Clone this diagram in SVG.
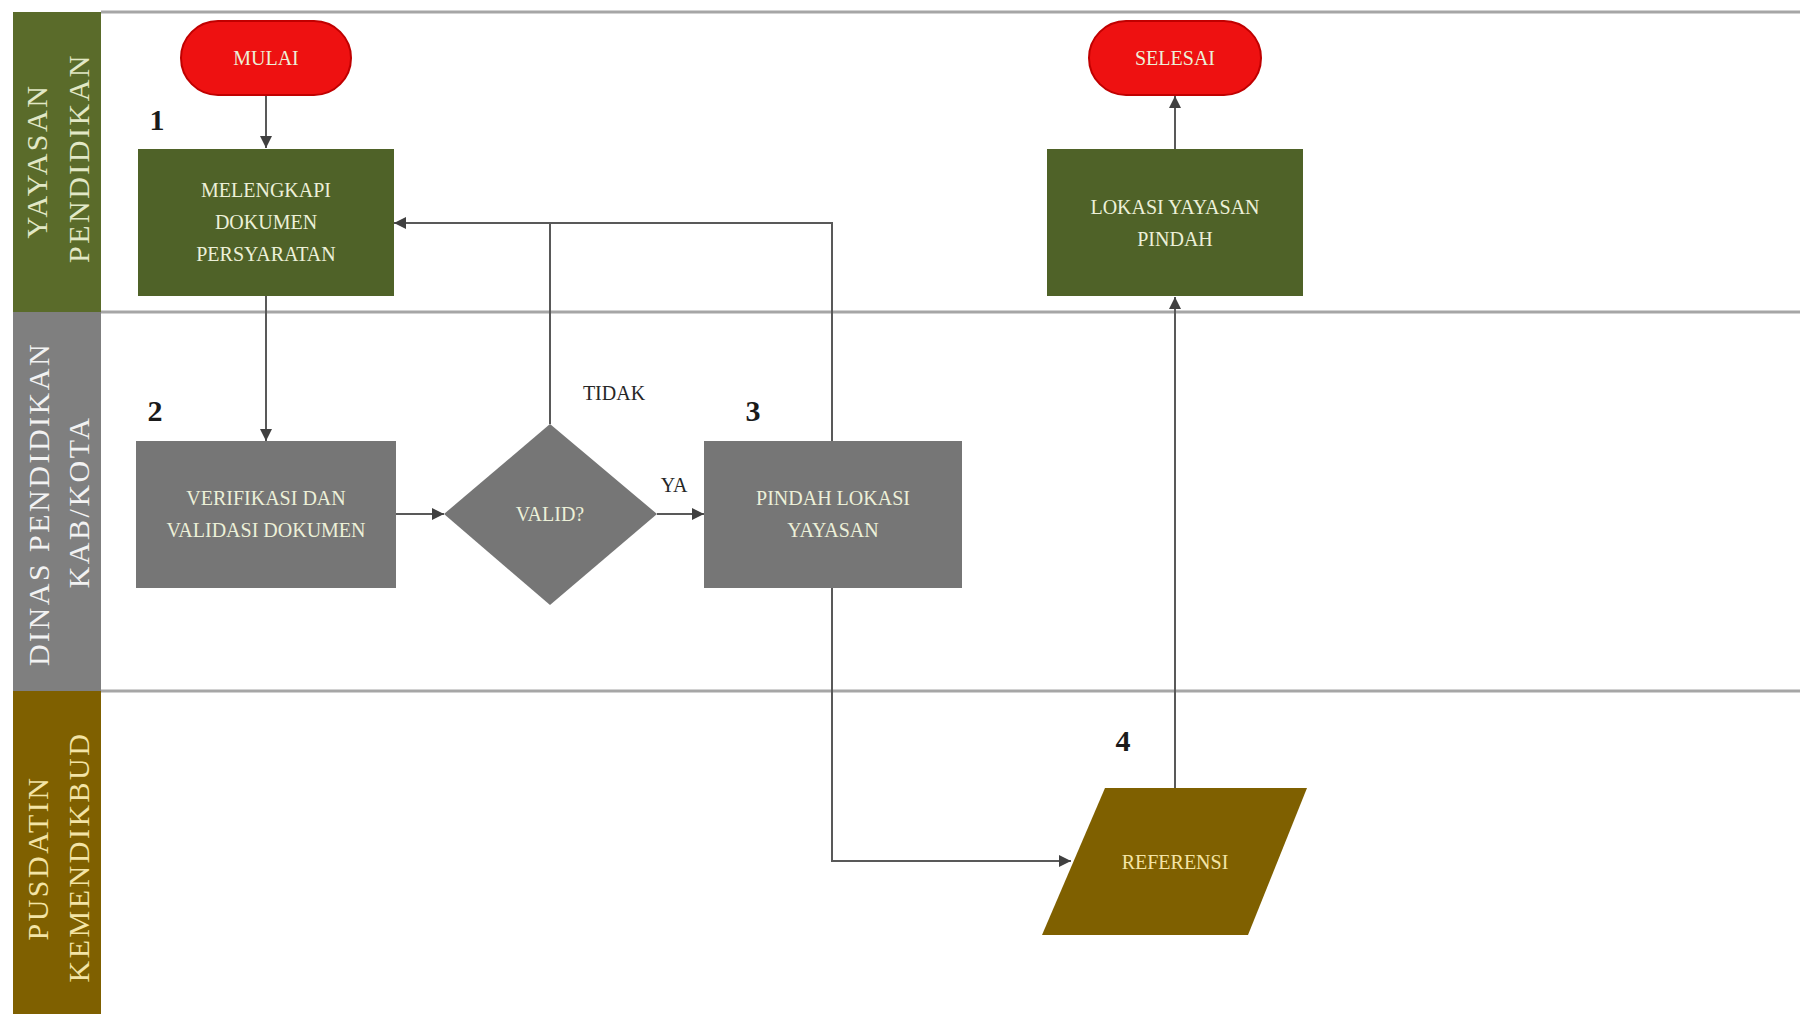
<svg xmlns="http://www.w3.org/2000/svg" width="1800" height="1014" viewBox="0 0 1800 1014">
<style>
.lane{font-family:"Liberation Serif",serif;font-size:30px;letter-spacing:2.5px;text-anchor:middle;dominant-baseline:central}
.bt{font-family:"Liberation Serif",serif;font-size:20px;fill:#ecf0d8;text-anchor:middle;dominant-baseline:central}
.num{font-family:"Liberation Serif",serif;font-size:30px;font-weight:bold;fill:#1a1a1a;text-anchor:middle;dominant-baseline:central}
.lbl{font-family:"Liberation Serif",serif;font-size:20px;fill:#262626;text-anchor:middle;dominant-baseline:central}
.ln{fill:none;stroke:#595959;stroke-width:2}
.sep{stroke:#a6a6a6;stroke-width:3}
.green{fill:#4f6228}
.gray{fill:#767676}
.term{fill:#ee1111;stroke:#c00000;stroke-width:2}
</style>
<defs>
<marker id="ah" viewBox="0 0 10 10" refX="10" refY="5" markerWidth="12" markerHeight="12" markerUnits="userSpaceOnUse" orient="auto">
<path d="M0,0 L10,5 L0,10 z" fill="#404040"/>
</marker>
</defs>
<rect width="1800" height="1014" fill="#ffffff"/>
<g id="lanes">
<rect x="13" y="12" width="88" height="300" fill="#5a6b2a"/>
<rect x="13" y="312" width="88" height="379" fill="#7f7f7f"/>
<rect x="13" y="691" width="88" height="323" fill="#7f6000"/>
<line class="sep" x1="101" y1="12" x2="1800" y2="12"/>
<line class="sep" x1="101" y1="312" x2="1800" y2="312"/>
<line class="sep" x1="101" y1="691" x2="1800" y2="691"/>
<text class="lane" fill="#e2e8c6" transform="translate(36,161) rotate(-90)">YAYASAN</text>
<text class="lane" fill="#e2e8c6" transform="translate(78,158) rotate(-90)">PENDIDIKAN</text>
<text class="lane" fill="#f2f2f2" transform="translate(38,504) rotate(-90)">DINAS PENDIDIKAN</text>
<text class="lane" fill="#f2f2f2" transform="translate(78,502) rotate(-90)">KAB/KOTA</text>
<text class="lane" fill="#f3e4a6" transform="translate(37,858) rotate(-90)">PUSDATIN</text>
<text class="lane" fill="#f3e4a6" transform="translate(78,857) rotate(-90)">KEMENDIKBUD</text>
</g>
<g id="connectors">
<line class="ln" x1="266" y1="95" x2="266" y2="148" marker-end="url(#ah)"/>
<line class="ln" x1="266" y1="296" x2="266" y2="441" marker-end="url(#ah)"/>
<line class="ln" x1="396" y1="514" x2="444" y2="514" marker-end="url(#ah)"/>
<line class="ln" x1="657" y1="514" x2="704" y2="514" marker-end="url(#ah)"/>
<polyline class="ln" points="550,424 550,223"/>
<polyline class="ln" points="832,441 832,223 394,223" marker-end="url(#ah)"/>
<polyline class="ln" points="832,588 832,861 1071,861" marker-end="url(#ah)"/>
<line class="ln" x1="1175" y1="788" x2="1175" y2="297" marker-end="url(#ah)"/>
<line class="ln" x1="1175" y1="149" x2="1175" y2="96" marker-end="url(#ah)"/>
</g>
<g id="mulai">
<rect class="term" x="181" y="21" width="170" height="74" rx="37"/>
<text class="bt" x="266" y="58">MULAI</text>
</g>
<g id="step1">
<text class="num" x="157" y="119">1</text>
<rect class="green" x="138" y="149" width="256" height="147"/>
<text class="bt" x="266" y="190">MELENGKAPI</text>
<text class="bt" x="266" y="222">DOKUMEN</text>
<text class="bt" x="266" y="254">PERSYARATAN</text>
</g>
<g id="step2">
<text class="num" x="155" y="410">2</text>
<rect class="gray" x="136" y="441" width="260" height="147"/>
<text class="bt" x="266" y="498">VERIFIKASI DAN</text>
<text class="bt" x="266" y="530">VALIDASI DOKUMEN</text>
</g>
<g id="valid">
<polygon class="gray" points="550,424 657,514 550,605 444,514"/>
<text class="bt" x="550" y="514">VALID?</text>
</g>
<g id="labels">
<text class="lbl" x="614" y="393">TIDAK</text>
<text class="lbl" x="674" y="485">YA</text>
</g>
<g id="step3">
<text class="num" x="753" y="410">3</text>
<rect class="gray" x="704" y="441" width="258" height="147"/>
<text class="bt" x="833" y="498">PINDAH LOKASI</text>
<text class="bt" x="833" y="530">YAYASAN</text>
</g>
<g id="step4">
<text class="num" x="1123" y="740">4</text>
<polygon points="1105,788 1307,788 1248,935 1042,935" fill="#7f6000"/>
<text class="bt" x="1175" y="862" style="fill:#f3e4a6">REFERENSI</text>
</g>
<g id="lokasi">
<rect class="green" x="1047" y="149" width="256" height="147"/>
<text class="bt" x="1175" y="207">LOKASI YAYASAN</text>
<text class="bt" x="1175" y="239">PINDAH</text>
</g>
<g id="selesai">
<rect class="term" x="1089" y="21" width="172" height="74" rx="37"/>
<text class="bt" x="1175" y="58">SELESAI</text>
</g>
</svg>
